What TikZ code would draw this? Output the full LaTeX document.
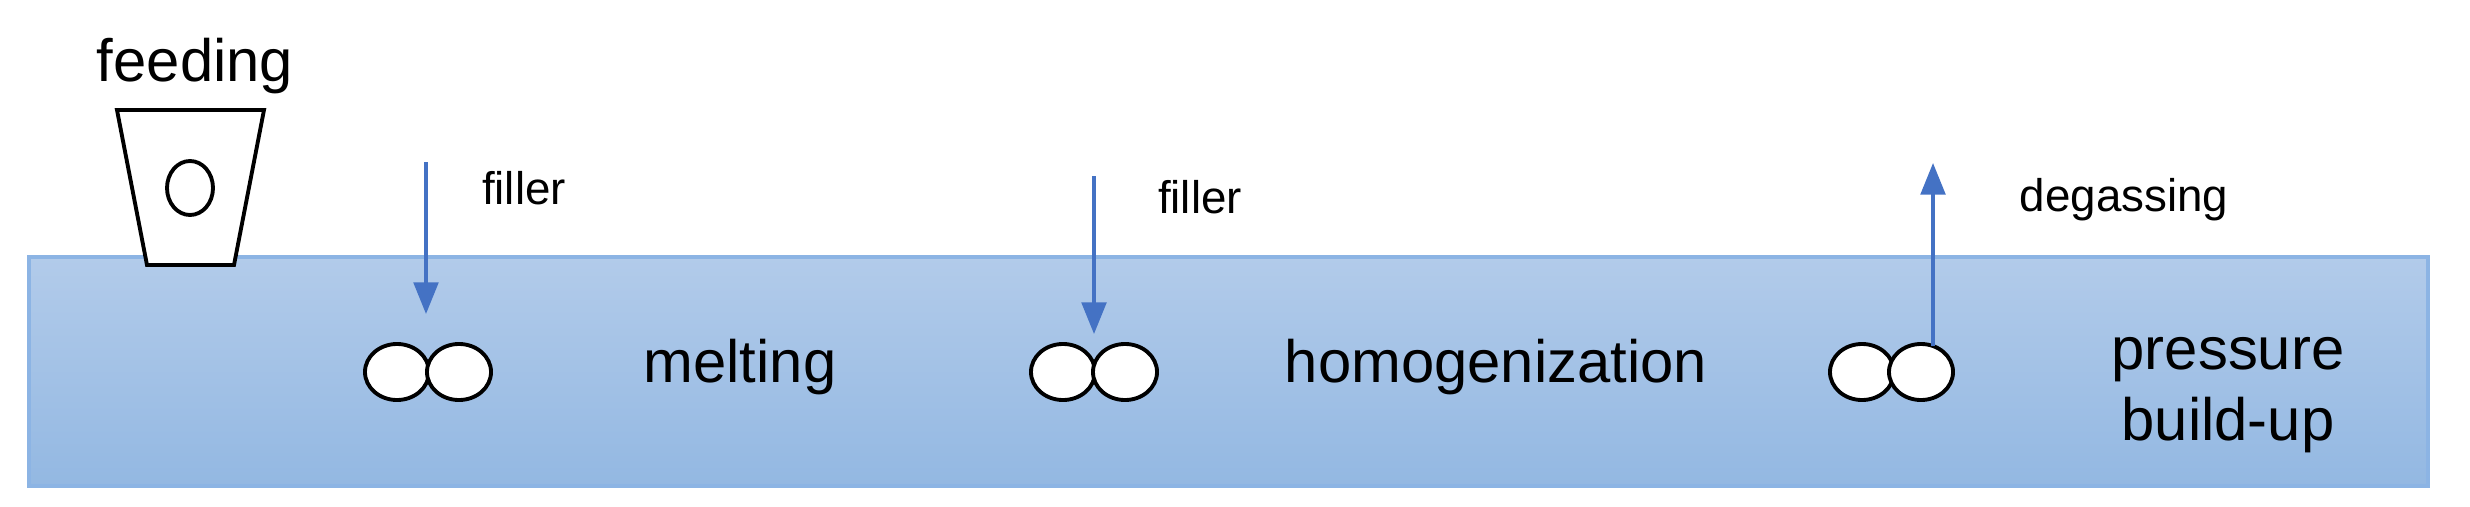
\documentclass[tikz,border=0pt]{standalone}
\usepackage{fontspec}
\setmainfont{Liberation Sans}
\usetikzlibrary{arrows.meta,shapes.geometric}
\definecolor{topb}{RGB}{178,203,234}
\definecolor{botb}{RGB}{147,184,226}
\definecolor{edgeb}{RGB}{140,180,228}
\definecolor{arr}{RGB}{68,114,196}
\begin{document}
\begin{tikzpicture}[x=0.01cm,y=-0.01cm,
  big/.style={font=\fontsize{17}{20}\selectfont,align=center,inner sep=0},
  small/.style={font=\fontsize{13}{15}\selectfont,inner sep=0},
  screw/.style={draw=black,line width=1.1pt,fill=white,ellipse,minimum width=0.64cm,minimum height=0.56cm,inner sep=0},
  flow/.style={draw=arr,line width=1pt,-{Triangle[length=9pt,width=7pt]}}]
\useasboundingbox (0,0) rectangle (2470,506);
\shade[top color=topb,bottom color=botb,draw=edgeb,line width=1pt] (29,257) rectangle (2428,486);
\node[big] (feed) at (195,66) {feeding};
\draw[black,line width=1.1pt,fill=white] (117,110) -- (264,110) -- (234,265) -- (147,265) -- cycle;
\draw[black,line width=1.1pt] (190,188) ellipse (23 and 27);
% screws
\node[screw] (s1a) at (397,372) {};
\node[screw] (s1b) at (459,372) {};
\node[screw] (s2a) at (1063,372) {};
\node[screw] (s2b) at (1125,372) {};
\node[screw] (s3a) at (1862,372) {};
\node[screw] (s3b) at (1921,372) {};
\coordinate (f1) at (426,162);
\coordinate (f1e) at (426,314);
\coordinate (f2) at (1094,176);
\coordinate (f2e) at (1094,334);
\coordinate (d0) at (1933,346);
\coordinate (d1) at (1933,163);
\draw[flow] (f1) -- (f1e);
\draw[flow] (f2) -- (f2e);
\draw[flow] (d0) -- (d1);
\node[small] (fl1) at (524,188) {filler};
\node[small] (fl2) at (1200,197) {filler};
\node[small] (deg) at (2124,200) {degassing};
\node[big] (melt) at (740,367) {melting};
\node[big] (homo) at (1496,367) {homogenization};
\node[big] (pres) at (2228,395) {pressure\\build-up};
\end{tikzpicture}
\end{document}
